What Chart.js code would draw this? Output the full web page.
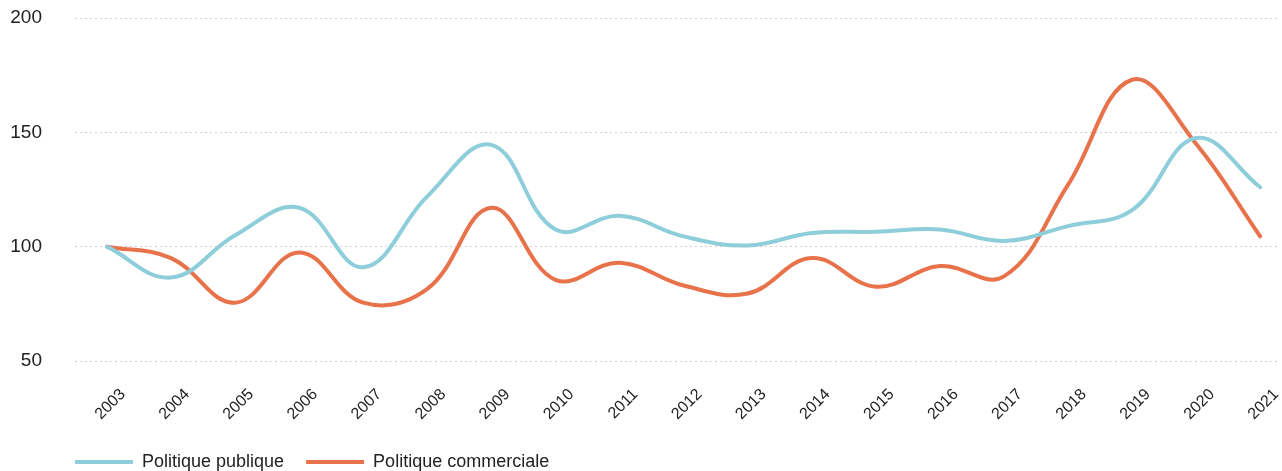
<!DOCTYPE html>
<html>
<head>
<meta charset="utf-8">
<script src="https://cdn.jsdelivr.net/npm/chart.js@4.4.1/dist/chart.umd.min.js"></script>
<style>
  html, body { margin: 0; padding: 0; background: #fff; }
  #wrap { width: 1282px; height: 471px; }
</style>
</head>
<body>
<div id="wrap"><canvas id="myChart"></canvas></div>
<script>
var years = ['2003', '2004', '2005', '2006', '2007', '2008', '2009', '2010', '2011', '2012',
	'2013', '2014', '2015', '2016', '2017', '2018', '2019', '2020', '2021'];
var publique = [100, 86.5, 105, 117, 91, 122, 144.5, 107.5, 113.5, 104.5,
	100.5, 106, 106.5, 107.5, 102.5, 109, 116, 147.5, 126];
var commerciale = [100, 95, 75.5, 97.5, 75.5, 81.5, 117, 85.5, 93, 83,
	79.5, 95, 82.5, 91.5, 87, 127, 173, 145, 104.5];
var yTicks = [50, 100, 150, 200];

function toPoints(values)
{
	return values.map(function(v, i) { return {x: i, y: v}; });
}

// start the legend row at the left edge of the plot instead of the canvas
var legendIndent = {
	id: 'legendIndent',
	afterLayout: function(chart) {
		chart.legend.left = chart.chartArea.left - chart.legend.options.labels.padding;
	}
};

var ctx = document.getElementById('myChart').getContext('2d');
var myChart = new Chart(ctx, {
	type: 'line',
	data: {
		datasets: [{
			label: 'Politique publique',
			data: toPoints(publique),
			borderColor: "rgb(142,206,219)",
			backgroundColor: "rgb(142,206,219)",
			borderWidth: 4,
			borderCapStyle: 'round',
			pointRadius: 0,
			tension: 0.4,
			fill: false
		}, {
			label: 'Politique commerciale',
			data: toPoints(commerciale),
			borderColor: "rgb(232,114,74)",
			backgroundColor: "rgb(232,114,74)",
			borderWidth: 4,
			borderCapStyle: 'round',
			pointRadius: 0,
			tension: 0.4,
			fill: false
		}]
	},
	plugins: [legendIndent],
	options: {
		responsive: true,
		maintainAspectRatio: false,
		animation: false,
		layout: { padding: { left: 10, right: 2, top: 18, bottom: -10 } },
		plugins: {
			tooltip: { enabled: false },
			legend: {
				position: 'bottom',
				align: 'start',
				labels: {
					usePointStyle: true,
					pointStyle: 'line',
					pointStyleWidth: 58,
					padding: 22,
					color: '#222',
					font: { family: 'Liberation Sans', size: 18 }
				}
			}
		},
		scales: {
			x: {
				type: 'linear',
				min: -0.5,
				max: 18.31,
				grid: { display: false, drawTicks: false },
				border: { display: false },
				afterFit: function(scale) {
					scale.height = 70;
					scale.paddingLeft = 0;
					scale.paddingRight = 0;
				},
				ticks: {
					stepSize: 1,
					includeBounds: false,
					autoSkip: false,
					minRotation: 45,
					maxRotation: 45,
					padding: 24,
					labelOffset: 16,
					color: '#222',
					font: { family: 'Liberation Sans', size: 16 },
					callback: function(value) { return years[value]; }
				}
			},
			y: {
				min: yTicks[0],
				max: yTicks[yTicks.length - 1],
				afterBuildTicks: function(scale) {
					scale.ticks = yTicks.map(function(v) { return {value: v}; });
				},
				afterFit: function(scale) {
					scale.width = 65;
					scale.paddingTop = 10;
					scale.paddingBottom = 10;
				},
				grid: { color: '#cfcfcf', lineWidth: 1, drawTicks: false },
				border: { display: false, dash: [2, 3] },
				ticks: {
					padding: 33,
					color: '#222',
					font: { family: 'Liberation Sans', size: 19 }
				}
			}
		}
	}
});
</script>
</body>
</html>
